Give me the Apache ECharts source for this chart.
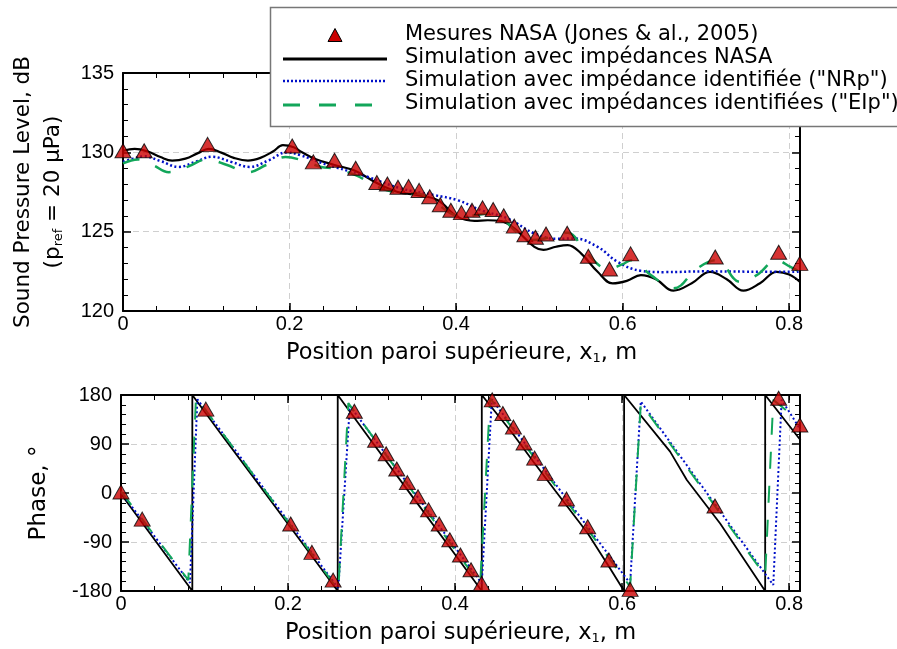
<!DOCTYPE html>
<html><head><meta charset="utf-8">
<script src="https://cdn.jsdelivr.net/npm/echarts@6/dist/echarts.min.js"></script>
<style>html,body{margin:0;padding:0;background:#fff}#c{width:897px;height:649px}</style>
</head><body><div id="c"></div>
<script>
// ---------- data ----------
const names = [
  'Mesures NASA (Jones & al., 2005)',
  'Simulation avec impédances NASA',
  'Simulation avec impédance identifiée ("NRp")',
  'Simulation avec impédances identifiées ("EIp")'
];
const measX = [0, 0.0254, 0.1016, 0.2032, 0.2286, 0.254, 0.2794, 0.3048, 0.3175, 0.3302, 0.3429, 0.3556, 0.3683, 0.381, 0.3937, 0.4064, 0.4191, 0.4318, 0.4445, 0.4572, 0.4699, 0.4826, 0.4953, 0.508, 0.5334, 0.5588, 0.5842, 0.6096, 0.7112, 0.7874, 0.8128];
const measSPL = [130.1, 130.1, 130.5, 130.4, 129.4, 129.5, 129.0, 128.1, 128.0, 127.8, 127.85, 127.6, 127.2, 126.7, 126.35, 126.2, 126.35, 126.5, 126.4, 126.0, 125.35, 124.8, 124.65, 124.85, 124.9, 123.45, 122.65, 123.6, 123.4, 123.7, 123.0];
const measPhase = [2, -48, 154, -57, -109, -160, 150, 97, 72, 44, 19, -7, -31, -57, -86, -114, -141, -166, 171, 146, 121, 92, 64, 36, -11, -62, -123, -177, -24, 174, 125];

const splNasa = [[0,130.1],[0.014,130.22],[0.03,130.05],[0.045,129.7],[0.059,129.48],[0.075,129.6],[0.09,129.95],[0.103,130.22],[0.118,129.98],[0.133,129.65],[0.15,129.48],[0.165,129.65],[0.18,130.05],[0.192,130.45],[0.205,130.32],[0.215,130.0],[0.23,129.6],[0.254,129.2],[0.278,128.85],[0.306,128.03],[0.33,127.5],[0.354,127.3],[0.378,126.98],[0.402,125.93],[0.422,125.68],[0.438,125.72],[0.454,125.66],[0.47,125.2],[0.494,124.04],[0.505,123.85],[0.52,124.05],[0.534,124.15],[0.55,123.63],[0.57,122.47],[0.588,121.74],[0.605,121.9],[0.622,122.26],[0.64,122.0],[0.661,121.28],[0.683,121.75],[0.705,122.47],[0.725,122.0],[0.745,121.28],[0.765,121.75],[0.785,122.47],[0.8,122.3],[0.813,121.84]];
const splNRp = [[0,129.4],[0.012,129.6],[0.025,129.75],[0.045,129.45],[0.067,129.08],[0.087,129.4],[0.107,129.72],[0.13,129.4],[0.152,129.08],[0.175,129.5],[0.197,130.0],[0.214,129.8],[0.235,129.39],[0.254,129.08],[0.294,128.45],[0.334,127.72],[0.374,127.3],[0.402,126.98],[0.43,126.35],[0.462,125.83],[0.494,124.89],[0.52,124.55],[0.542,124.57],[0.57,124.04],[0.594,123.1],[0.622,122.53],[0.65,122.45],[0.7,122.5],[0.75,122.48],[0.813,122.47]];
const splEIp = [[0,129.3],[0.018,129.55],[0.036,129.2],[0.055,128.75],[0.078,129.1],[0.1,129.55],[0.125,129.2],[0.15,128.75],[0.172,129.2],[0.195,129.7],[0.215,129.5],[0.238,129.08],[0.254,128.97],[0.28,128.55],[0.306,127.82],[0.334,127.44],[0.354,127.4],[0.374,126.87],[0.394,126.14],[0.41,125.93],[0.424,126.05],[0.438,126.14],[0.454,125.93],[0.47,125.09],[0.49,124.47],[0.506,124.57],[0.534,124.93],[0.554,123.84],[0.574,122.79],[0.584,122.68],[0.6,122.95],[0.61,123.2],[0.634,122.26],[0.661,121.43],[0.69,122.7],[0.713,123.2],[0.741,121.84],[0.761,122.26],[0.785,123.2],[0.801,122.79],[0.813,122.47]];

const phNasa = [[0,-2],[0.0854,-180],[0.0854,180],[0.12,108],[0.16,26],[0.2,-57],[0.23,-119],[0.2595,-180],[0.2595,180],[0.3,95],[0.35,-9],[0.4,-113],[0.432,-180],[0.432,180],[0.47,107],[0.494,57],[0.52,4],[0.5588,-74],[0.5842,-135],[0.6024,-180],[0.6024,180],[0.6575,76],[0.6775,24],[0.7174,-56],[0.7713,-180],[0.7713,180],[0.8137,97]];
const phNRp = [[0,1],[0.0826,-165],[0.0914,172],[0.2602,-175],[0.274,160],[0.432,-166],[0.444,172],[0.6096,-166],[0.6224,168],[0.781,-169],[0.791,171],[0.8137,116]];
const phEIp = [[0,3],[0.0806,-160],[0.0898,176],[0.2602,-178],[0.2722,165],[0.43,-168],[0.442,174],[0.6096,-172],[0.6224,165],[0.7713,-152],[0.781,171],[0.8137,131]];

const xMax = 0.813;
const xMajor = 0.2, xMinor = 0.04;
const splRange = [120, 135, 5];
const phRange = [-180, 180, 90];

// ---------- styles ----------
const FONT = 'Liberation Sans';
const TFONT = 'DejaVu Sans';
const RED = '#cc0000', BLUE = '#0010c8', GREEN = '#12a65a';
const BLUE_DASH = [2, 2.5], GREEN_DASH = [17, 17];
const gridLine = {show: true, lineStyle: {color: '#cfcfcf', type: [6, 4], width: 1}};
const axLine = {show: true, onZero: false, lineStyle: {color: '#000', width: 2}};
const xName = 'Position paroi supérieure, x{sub|1}, m';
function nameStyle(size, lh) {
  return {fontFamily: TFONT, fontSize: size, color: '#000', lineHeight: lh,
    rich: {sub: {fontFamily: TFONT, fontSize: 13, color: '#000', padding: [11, 0, 0, 0]}}};
}

function xAxes(grid) {
  const fmt = v => {
    const k = v / xMajor;
    if (Math.abs(k - Math.round(k)) > 1e-6) return '';
    return v === 0 ? '0' : (+v.toFixed(1)).toString();
  };
  const base = {gridIndex: grid, type: 'value', min: 0, max: xMax};
  return [
    Object.assign({}, base, {position: 'bottom', interval: xMajor,
     axisLine: axLine, axisTick: {show: true, inside: true, length: 8, lineStyle: {color: '#000', width: 1.5}},
     axisLabel: {formatter: fmt, fontFamily: FONT, fontSize: 20, color: '#000', margin: 3, showMaxLabel: false},
     splitLine: gridLine, name: xName, nameLocation: 'middle', nameGap: 29, nameTextStyle: nameStyle(22.5, 26)}),
    Object.assign({}, base, {position: 'bottom', interval: xMinor,
     axisLine: {show: false, onZero: false}, axisTick: {show: true, inside: true, length: 5, lineStyle: {color: '#000', width: 1}},
     axisLabel: {show: false}, splitLine: {show: false}}),
    Object.assign({}, base, {position: 'top', interval: xMajor,
     axisLine: axLine, axisTick: {show: true, inside: true, length: 8, lineStyle: {color: '#000', width: 1.5}},
     axisLabel: {show: false}, splitLine: {show: false}}),
    Object.assign({}, base, {position: 'top', interval: xMinor,
     axisLine: {show: false, onZero: false}, axisTick: {show: true, inside: true, length: 5, lineStyle: {color: '#000', width: 1}},
     axisLabel: {show: false}, splitLine: {show: false}})
  ];
}
function yAxes(grid, range, name, nameGap, nameSize) {
  const common = {gridIndex: grid, type: 'value', min: range[0], max: range[1], interval: range[2],
    axisLine: axLine, axisTick: {show: true, inside: true, length: 8, lineStyle: {color: '#000', width: 1.5}},
    minorTick: {show: true, splitNumber: 5, length: 5, lineStyle: {color: '#000', width: 1}}};
  return [
    Object.assign({}, common, {position: 'left',
      axisLabel: {fontFamily: FONT, fontSize: 20, color: '#000', margin: 9},
      splitLine: gridLine, name: name, nameLocation: 'middle', nameGap: nameGap,
      nameTextStyle: nameStyle(nameSize, 30)}),
    Object.assign({}, common, {position: 'right', axisLabel: {show: false}, splitLine: {show: false}})
  ];
}

function lineSeries(nm, data, xi, yi, color, type, width, smooth) {
  return {name: nm, type: 'line', xAxisIndex: xi, yAxisIndex: yi, data: data, smooth: smooth,
    symbol: 'none', showSymbol: false, animation: false, clip: true,
    lineStyle: {color: color, type: type, width: width}, itemStyle: {color: color}};
}
function measSeries(vals, xi, yi) {
  return {name: names[0], type: 'scatter', xAxisIndex: xi, yAxisIndex: yi, z: 5,
    data: measX.map((x, i) => [x, vals[i]]), symbol: 'triangle', symbolSize: [16, 14],
    itemStyle: {color: RED, borderColor: '#000', borderWidth: 1}, animation: false};
}

// ---------- legend (drawn as graphic elements) ----------
const LG = {x: 270.5, y: 7.5, w: 640, h: 119, iconX0: 283, iconX1: 387, textX: 405, rows: [35, 58, 81, 104], lineRows: [59, 81, 105]};
const legendGraphic = [
  {type: 'rect', z: 100, shape: {x: LG.x, y: LG.y, width: LG.w, height: LG.h},
   style: {fill: '#fff', stroke: '#777', lineWidth: 1.5}},
  {type: 'polygon', z: 101, shape: {points: [[LG.iconX0 + 45, LG.rows[0] + 6.5], [LG.iconX0 + 59, LG.rows[0] + 6.5], [LG.iconX0 + 52, LG.rows[0] - 6.5]]},
   style: {fill: RED, stroke: '#000', lineWidth: 1}},
  {type: 'line', z: 101, shape: {x1: LG.iconX0, y1: LG.lineRows[0], x2: LG.iconX1, y2: LG.lineRows[0]},
   style: {stroke: '#000', lineWidth: 3}},
  {type: 'line', z: 101, shape: {x1: LG.iconX0, y1: LG.lineRows[1], x2: LG.iconX1, y2: LG.lineRows[1]},
   style: {stroke: BLUE, lineWidth: 2.5, lineDash: [2, 2]}},
  {type: 'line', z: 101, shape: {x1: LG.iconX0, y1: LG.lineRows[2], x2: LG.iconX1, y2: LG.lineRows[2]},
   style: {stroke: GREEN, lineWidth: 3, lineDash: [17, 19]}}
].concat(names.map((n, i) => ({
  type: 'text', z: 101, x: LG.textX, y: LG.rows[i],
  style: {text: n, fill: '#000', font: '21px "' + TFONT + '"', verticalAlign: 'middle', align: 'left'}
})));

const option = {
  backgroundColor: '#fff',
  animation: false,
  grid: [
    {left: 121, top: 73, width: 679, height: 238},
    {left: 121, top: 395, width: 679, height: 196}
  ],
  xAxis: [].concat(xAxes(0), xAxes(1)),
  yAxis: [].concat(
    yAxes(0, splRange, 'Sound Pressure Level, dB\n(p{sub|ref} = 20 µPa)', 55, 21.5),
    yAxes(1, phRange, 'Phase, °', 67, 23)
  ),
  graphic: legendGraphic,
  series: [
    lineSeries(names[1], splNasa, 0, 0, '#000', 'solid', 2.2, 0.4),
    lineSeries(names[2], splNRp, 0, 0, BLUE, BLUE_DASH, 2.5, 0.4),
    lineSeries(names[3], splEIp, 0, 0, GREEN, GREEN_DASH, 2.5, 0.4),
    measSeries(measSPL, 0, 0),
    lineSeries(names[1], phNasa, 4, 2, '#000', 'solid', 1.8, false),
    lineSeries(names[2], phNRp, 4, 2, BLUE, BLUE_DASH, 2, false),
    lineSeries(names[3], phEIp, 4, 2, GREEN, GREEN_DASH, 2, false),
    measSeries(measPhase, 4, 2)
  ]
};
const chart = echarts.init(document.getElementById('c'), null, {renderer: 'canvas'});
chart.setOption(option);
</script></body></html>
